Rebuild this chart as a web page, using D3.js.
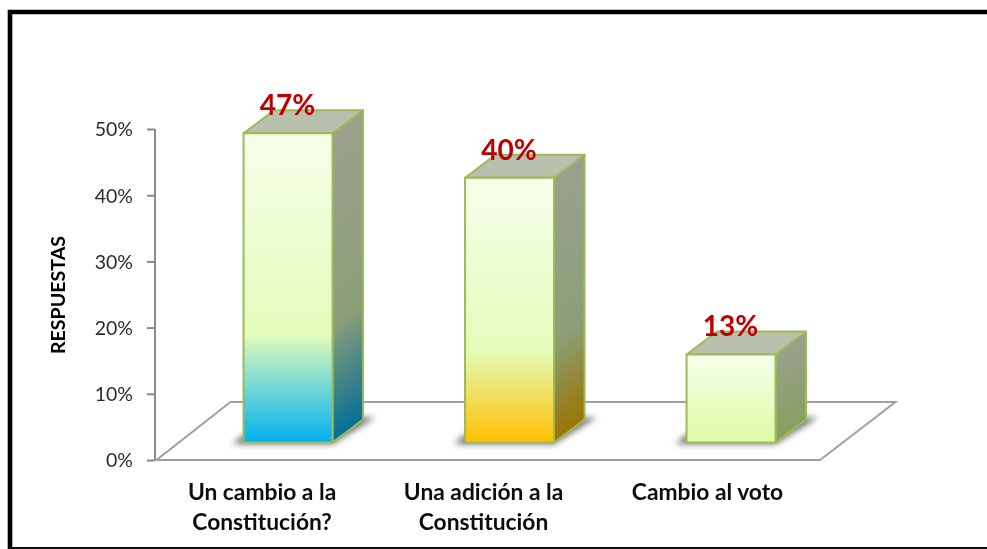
<!DOCTYPE html>
<html><head><meta charset="utf-8">
<script src="https://cdn.jsdelivr.net/npm/d3@7"></script>
<style>html,body{margin:0;padding:0;background:#fff}svg{display:block}text{font-family:Lato,sans-serif}</style>
</head><body><svg id="c" width="987" height="549"></svg>
<script>
const categories = [["Un cambio a la","Constitución?"],["Una adición a la","Constitución"],["Cambio al voto"]];
const values = [46.7, 40, 13.3];
const ticks = [0,10,20,30,40,50];
const frontEnds = ["#00b0f0","#ffc000","#dcfba6"];
const sideEnds = ["#046e96","#9a7400","#86a060"];
const paleEnd = [0.65,0.65,1];

const svg = d3.select("#c");
const x = d3.scaleBand().domain(d3.range(categories.length)).range([155,819.5]);
const y = d3.scaleLinear().domain([0,50]).range([460,129]);
const barW = 89;
const fx=22.3, fy=-17.5, dx=30.5, dy=-23, backDy=-58;
const bx = i => x(i) + (x.bandwidth()-barW)/2 + fx;
const defs = svg.append("defs");
defs.append("filter").attr("id","sh").attr("x","-30%").attr("y","-50%").attr("width","160%").attr("height","200%")
  .append("feGaussianBlur").attr("stdDeviation",3);
defs.append("filter").attr("id","soft").attr("filterUnits","userSpaceOnUse").attr("x",0).attr("y",0).attr("width",987).attr("height",549)
  .append("feGaussianBlur").attr("stdDeviation",0.45);
values.forEach((v,i)=>{
  const L=bx(i), R=L+barW, B=y(0)+fy, T=y(v)+fy;
  const g1=defs.append("linearGradient").attr("id","f"+i).attr("x1",0).attr("y1",0).attr("x2",0).attr("y2",1);
  g1.append("stop").attr("offset",0).attr("stop-color","#f7ffea");
  if(i<2){
    g1.append("stop").attr("offset",paleEnd[i]).attr("stop-color","#e3fcba");
    g1.append("stop").attr("offset",1).attr("stop-color",frontEnds[i]);
  } else g1.append("stop").attr("offset",1).attr("stop-color",frontEnds[i]);
  // side gradient runs along the skew of the side face, so its bands tilt with it
  const len=Math.hypot(dx,dy), ux=-dy/len, uy=dx/len, p=(B-T)*uy;
  const g2=defs.append("linearGradient").attr("id","s"+i).attr("gradientUnits","userSpaceOnUse")
    .attr("x1",R).attr("y1",T).attr("x2",R+ux*p).attr("y2",T+uy*p);
  g2.append("stop").attr("offset",0).attr("stop-color","#9ba08e");
  if(i<2){
    g2.append("stop").attr("offset",paleEnd[i]-0.03).attr("stop-color","#8c9f78");
    g2.append("stop").attr("offset",1).attr("stop-color",sideEnds[i]);
  } else g2.append("stop").attr("offset",1).attr("stop-color",sideEnds[i]);
});

const root = svg.append("g").attr("filter","url(#soft)");
// frame
root.append("path").attr("d","M10,549V12H987").attr("fill","none").attr("stroke","#000").attr("stroke-width",4.6);
root.append("line").attr("x1",10).attr("x2",987).attr("y1",548).attr("y2",548).attr("stroke","#111").attr("stroke-width",2);

// floor
const Y0=y(0), X0=156.5, X1=820;
root.append("path").attr("d",`M${X0},${Y0}L${X1},${Y0}L${X1+75.5},${Y0+backDy}L${X0+74},${Y0+backDy}Z`)
  .attr("fill","#fff").attr("stroke","#a0a0a0").attr("stroke-width",2);

// axis
const ax = root.append("g").attr("transform","translate(155,0)")
  .call(d3.axisLeft(y).tickValues(ticks).tickFormat(d=>d+"%").tickSize(8).tickPadding(14));
ax.selectAll("path,line").attr("stroke","#8a8a8a").attr("stroke-width",2);
ax.selectAll("text").attr("font-size",19.5).attr("fill","#2b2b2b").attr("dy","0.35em");
ax.select(".domain").attr("d",`M0,${y(50)}V${y(0)}`);

// axis title
root.append("text").attr("transform","translate(64.5,295) rotate(-90)").attr("text-anchor","middle")
  .attr("font-size",19.6).attr("font-weight",700).attr("fill","#000").text("RESPUESTAS");

// bars
const bars = root.selectAll(".b").data(values).join("g").attr("class","b");
bars.each(function(v,i){
  const g=d3.select(this), L=bx(i), R=L+barW, B=y(0)+fy, T=y(v)+fy;
  g.append("path").attr("d",`M${L-11},${B+1.5}L${R},${B+1.5}L${R+dx+12},${B+dy-2}L${R+dx-6},${B+dy-2}L${R-10},${B-8}L${L},${B-8}Z`)
    .attr("fill","#4d4d4d").attr("opacity",.8).attr("filter","url(#sh)");
  const st={stroke:"#9bbb59","stroke-width":2,"stroke-linejoin":"round"};
  const s1=g.append("path").attr("d",`M${R},${T}L${R+dx},${T+dy}V${B+dy}L${R},${B}Z`).attr("fill",`url(#s${i})`);
  const s2=g.append("path").attr("d",`M${L},${T}L${L+dx},${T+dy}H${R+dx}L${R},${T}Z`).attr("fill","#b9c0ae");
  const s3=g.append("rect").attr("x",L).attr("y",T).attr("width",barW).attr("height",B-T).attr("fill",`url(#f${i})`);
  [s1,s2,s3].forEach(s=>Object.entries(st).forEach(([k,c])=>s.attr(k,c)));
  g.append("text").attr("x",L+barW/2-0.5).attr("y",T-18).attr("text-anchor","middle")
    .attr("font-size",28).attr("font-weight",700).attr("fill","#c00000").text(d3.format(".0f")(v)+"%");
  const cat=g.append("text").attr("text-anchor","middle").attr("font-size",22.8).attr("font-weight",700).attr("fill","#111");
  categories[i].forEach((t,k)=>cat.append("tspan").attr("x",L+barW/2-26+(i==2?2.5:0)).attr("y",500+k*30).text(t));
});
</script></body></html>
